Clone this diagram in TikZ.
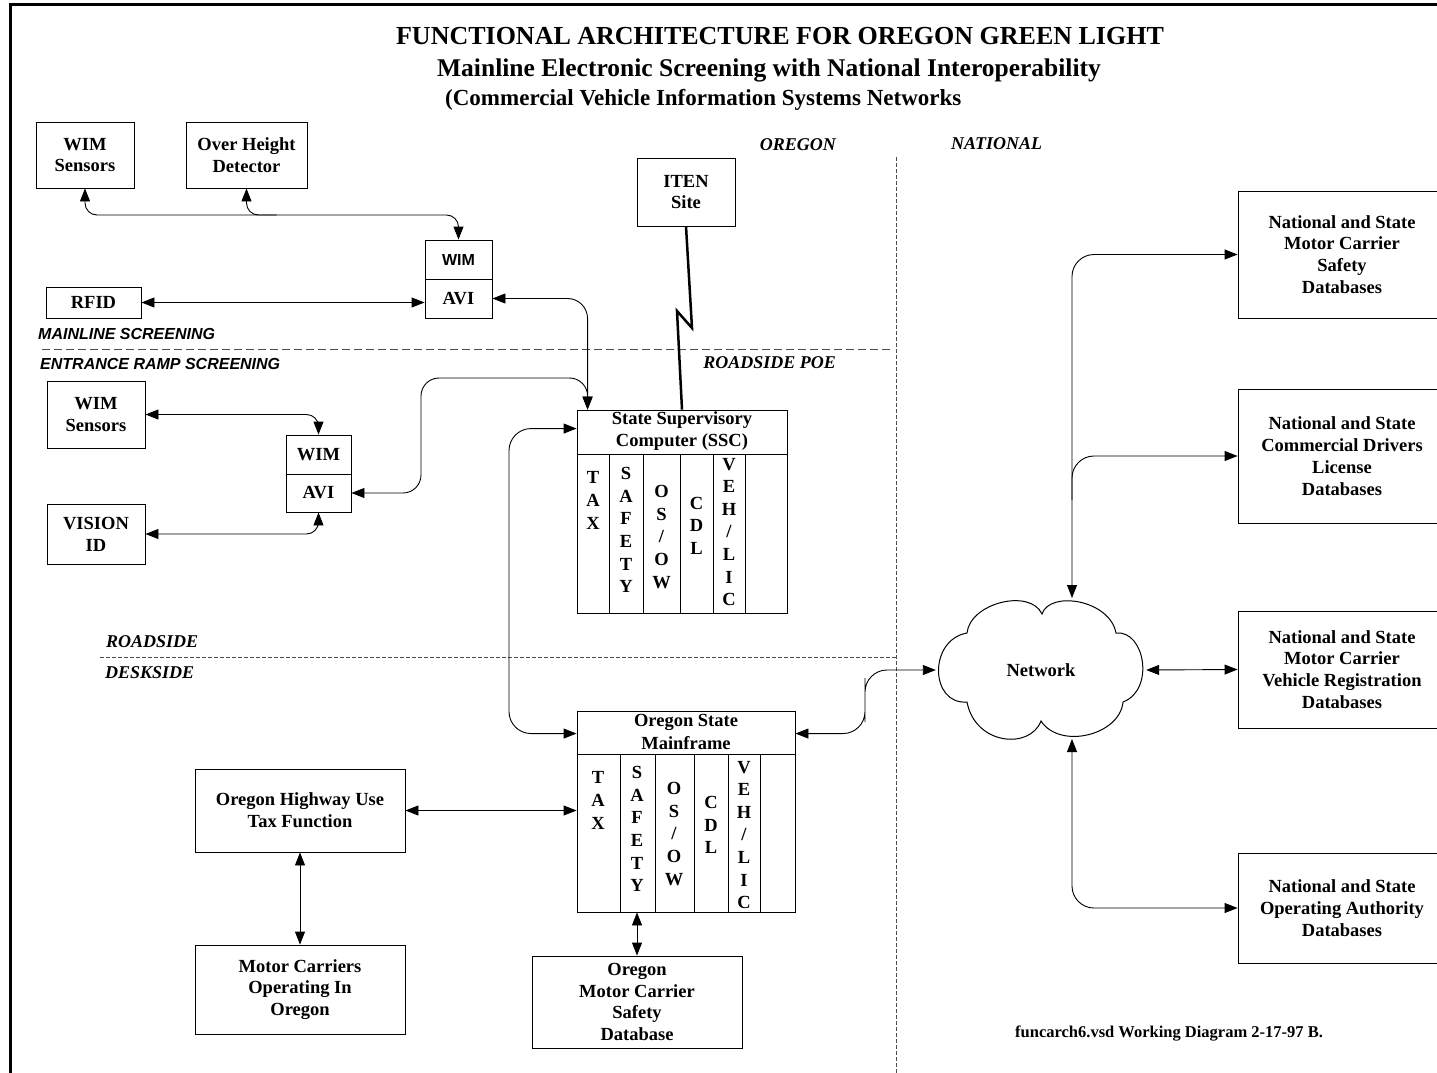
\documentclass[tikz,border=0pt]{standalone}
\usepackage{fontspec}
\setmainfont{Liberation Serif}
\newfontfamily\arialf{Liberation Sans}
\usetikzlibrary{arrows.meta,calc}
\begin{document}
\begin{tikzpicture}[x=1pt,y=-1pt,
  >={Triangle[length=13pt,width=10pt]},
  box/.style={draw,line width=0.9pt,inner sep=0pt,align=center,font=\fontsize{18.5}{21.8}\selectfont\bfseries},
  conn/.style={line width=0.9pt},
  vtext/.style={inner sep=0pt,align=center,font=\fontsize{18.5}{22.6}\selectfont\bfseries},
  hdr/.style={inner sep=0pt,align=center,font=\fontsize{18.5}{22.5}\selectfont\bfseries},
  zone/.style={inner sep=0pt,font=\fontsize{18}{20}\selectfont\bfseries\itshape},
  szone/.style={inner sep=0pt,font=\fontsize{16}{18}\selectfont\arialf\bfseries\itshape},
  bigdash/.style={line width=0.9pt,black!70,dash pattern=on 8pt off 4pt},
  smalldash/.style={line width=0.8pt,black!70,dash pattern=on 4pt off 2pt}
]
\useasboundingbox (0,0) rectangle (1437,1073);
\fill[white] (0,0) rectangle (1437,1073);

% frame
\draw[line width=3pt] (10,1085) -- (10,5) -- (1450,5);

% titles
\node[inner sep=0pt,font=\fontsize{26}{30}\selectfont\bfseries] (t1) at (780,36) {FUNCTIONAL ARCHITECTURE FOR OREGON GREEN LIGHT};
\node[inner sep=0pt,font=\fontsize{25.5}{30}\selectfont\bfseries] (t2) at (769,70) {Mainline Electronic Screening with National Interoperability};
\node[inner sep=0pt,anchor=west,font=\fontsize{23}{28}\selectfont\bfseries] (t3) at (445,100) {(Commercial Vehicle Information Systems Networks};

% zone labels
\node[zone,anchor=east] (lor) at (836,145) {OREGON};
\node[zone,anchor=west] (lnat) at (951,144) {NATIONAL};
\node[zone,anchor=east] (lpoe) at (836,363) {ROADSIDE POE};
\node[zone,anchor=west] (lrs) at (106,642) {ROADSIDE};
\node[zone,anchor=west] (lds) at (105,673) {DESKSIDE};
\node[szone,anchor=west] (lml) at (38,334) {MAINLINE SCREENING};
\node[szone,anchor=west] (ler) at (40,364) {ENTRANCE RAMP SCREENING};

% dashed separators
\draw[bigdash] (42,349) -- (890,349);
\draw[smalldash] (100,657) -- (896,657);
\draw[smalldash] (896,157) -- (896,1080);

% mainline boxes
\node[box,minimum width=98,minimum height=66] (wims1) at (85,155) {WIM\\Sensors};
\node[box,minimum width=121,minimum height=66] (ohd) at (246.5,155) {Over Height\\Detector};
\node[box,minimum width=67,minimum height=39,font=\fontsize{16}{19}\selectfont\arialf\bfseries] (wim1) at (458.5,259.5) {WIM};
\node[box,minimum width=67,minimum height=39] (avi1) at (458.5,298.5) {AVI};
\node[box,minimum width=95,minimum height=31] (rfid) at (93.5,302.5) {RFID};
\node[box,minimum width=98,minimum height=68] (iten) at (686,192) {ITEN\\Site};

% entrance ramp boxes
\node[box,minimum width=98,minimum height=67] (wims2) at (96,414.5) {WIM\\Sensors};
\node[box,minimum width=98,minimum height=60] (vision) at (96,534) {VISION\\ID};
\node[box,minimum width=65,minimum height=39] (wim2) at (318.5,454.5) {WIM};
\node[box,minimum width=65,minimum height=38] (avi2) at (318.5,493) {AVI};

% SSC
\node[box,minimum width=210,minimum height=203] (ssc) at (682,511.5) {};
\node[hdr] (ssch) at (682,431) {State Supervisory\\Computer (SSC)};
\draw[line width=0.9pt] (577,454) -- (787,454);
\foreach \x in {609,643,680,713,745} \draw[line width=0.9pt] (\x,454) -- (\x,613);
\node[vtext] (sc1) at (593,500.5) {T\\A\\X};
\node[vtext] (sc2) at (626,530) {S\\A\\F\\E\\T\\Y};
\node[vtext] (sc3) at (661.5,537) {O\\S\\/\\O\\W};
\node[vtext] (sc4) at (696.5,525.5) {C\\D\\L};
\node[vtext] (sc5) at (729,532) {V\\E\\H\\/\\L\\I\\C};

% Mainframe
\node[box,minimum width=218,minimum height=201] (mf) at (686,811.5) {};
\node[hdr] (mfh) at (686,732) {Oregon State\\Mainframe};
\draw[line width=0.9pt] (577,754) -- (795,754);
\foreach \x in {620,655,694,728,760} \draw[line width=0.9pt] (\x,754) -- (\x,912);
\node[vtext] (mc1) at (598,800.5) {T\\A\\X};
\node[vtext] (mc2) at (637,829) {S\\A\\F\\E\\T\\Y};
\node[vtext] (mc3) at (674,834) {O\\S\\/\\O\\W};
\node[vtext] (mc4) at (711,825) {C\\D\\L};
\node[vtext] (mc5) at (744,835) {V\\E\\H\\/\\L\\I\\C};

% deskside boxes
\node[box,minimum width=210,minimum height=83] (hut) at (300,810.5) {Oregon Highway Use\\Tax Function};
\node[box,minimum width=210,minimum height=89] (mco) at (300,989.5) {Motor Carriers\\Operating In\\Oregon};
\node[box,minimum width=210,minimum height=92] (omcs) at (637,1002) {Oregon\\Motor Carrier\\Safety\\Database};

% national boxes
\node[box,minimum width=208,minimum height=127] (nsafe) at (1342,254.5) {National and State\\Motor Carrier\\Safety\\Databases};
\node[box,minimum width=208,minimum height=134] (ncdl) at (1342,456) {National and State\\Commercial Drivers\\License\\Databases};
\node[box,minimum width=208,minimum height=117] (nveh) at (1342,669.5) {National and State\\Motor Carrier\\Vehicle Registration\\Databases};
\node[box,minimum width=208,minimum height=110] (nop) at (1342,908) {National and State\\Operating Authority\\Databases};

% network cloud
\draw[line width=1pt] (967,633) .. controls (970,603) and (1030,588) .. (1042,614)
  .. controls (1050,590) and (1110,600) .. (1116,633)
  .. controls (1145,630) and (1155,690) .. (1123,702)
  .. controls (1120,735) and (1060,750) .. (1041,721)
  .. controls (1030,750) and (975,745) .. (967,702)
  .. controls (930,705) and (928,640) .. (967,633) -- cycle;
\node[inner sep=0pt,minimum width=210,minimum height=140,font=\fontsize{18.5}{21.8}\selectfont\bfseries] (net) at (1041,670) {Network};

% helper coordinates
\coordinate (h1) at (0,215);
\coordinate (sscin) at ($(ssc.north west)+(11,0)$);
\coordinate (ramp1) at (421,378);
\coordinate (sscL) at ($(ssc.north west)+(0,19)$);
\coordinate (mfL) at ($(mf.north west)+(0,23)$);
\coordinate (c2) at (509,600);
\coordinate (mfR) at ($(mf.north east)+(0,23)$);
\coordinate (c3) at (865,700);
\coordinate (ntop) at (1072,598);
\coordinate (nbot) at (1072,739);
\coordinate (br) at (1072,500);

% connectors
\draw[conn,<->,rounded corners=12] (wims1.south) |- (wim1.north |- h1) -- (wim1.north);
\draw[conn,<-,rounded corners=12] (ohd.south) |- ($(ohd.south |- h1)+(30,0)$);
\draw[conn,<->] (rfid.east) -- (rfid.east -| avi1.west);
\draw[conn,<->,rounded corners=20] (avi1.east) -| (sscin);
\draw[conn,<->,rounded corners=18] (avi2.east) -| (ramp1) -| (sscin);
\draw[conn,<->,rounded corners=12] (wims2.east) -| (wim2.north);
\draw[conn,<->,rounded corners=12] (vision.east) -| (avi2.south);
\draw[conn,<->,rounded corners=22] (sscL) -| (c2) |- (mfL);
\draw[conn,<->,rounded corners=22] (mfR) -| (c3) |- (net.west);
\draw[conn,<->] (net.east) -- (nveh.west);
\draw[conn,<->,rounded corners=22] (ntop) |- (nsafe.west);
\draw[conn,->,rounded corners=22] (br) |- (ncdl.west);
\draw[conn,<->,rounded corners=22] (nbot) |- (nop.west);
\draw[conn,<->] (hut.east) -- (hut.east -| mf.west);
\draw[conn,<->] (hut.south) -- (mco.north);
\draw[conn,<->] (omcs.north |- mf.south) -- (omcs.north);

% ITEN radio link
\draw[line width=2.5pt,miter limit=10] (iten.south) -- (692,328) -- (677,311) -- (ssc.north);

% footer
\node[inner sep=0pt,anchor=west,font=\fontsize{16.5}{19}\selectfont\bfseries] (foot) at (1015,1033) {funcarch6.vsd Working Diagram 2-17-97 B.};
\end{tikzpicture}
\end{document}
